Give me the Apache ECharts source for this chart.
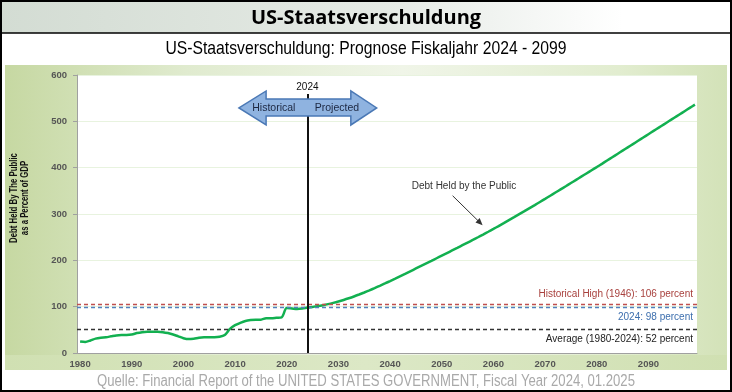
<!DOCTYPE html>
<html><head><meta charset="utf-8">
<script src="https://cdn.jsdelivr.net/npm/echarts@6/dist/echarts.min.js"></script>
<style>html,body{margin:0;padding:0;background:#fff;}#c{width:732px;height:392px;}</style>
</head><body><div id="c"></div>
<script>
// Historical (1980-2024) and projected (2024-2099) debt held by the public, % of GDP
const histYears = [];
for (let y = 1980; y <= 2024; y++) histYears.push(y);
const histValues = [25,24,27,31,33,34,36,38,39,39,40,43,45,46,46,46,45,43,40,36,32,30,31,33,34,34,34,35,39,52,60,65,69,71,72,72,75,75,76,77,97,96,95,96,98];
const projYears = [];
for (let y = 2025; y <= 2099; y++) projYears.push(y);
const projValues = [99.5,101.2,103.2,105.5,108.2,111.2,114.5,118.1,122,126.2,130.6,135.2,140,145,150.1,155.3,160.6,166,171.4,176.9,182.4,187.9,193.4,198.9,204.5,210.1,215.7,221.3,226.9,232.6,238.3,244,249.8,255.7,261.7,267.8,274,280.3,286.7,293.1,299.6,306.1,312.7,319.3,326,332.7,339.5,346.3,353.1,359.9,366.8,373.7,380.6,387.5,394.4,401.3,408.3,415.4,422.5,429.6,436.7,443.8,450.9,458,465.1,472.2,479.3,486.4,493.5,500.6,507.7,514.8,521.9,529,536.1];
const refLines = [
  {name:'Historical High (1946): 106 percent', value:106, color:'#c0504d', text:'#a8403d', pos:'insideEndTop'},
  {name:'2024: 98 percent', value:98, color:'#4f81bd', text:'#3d6fae', pos:'insideEndBottom'},
  {name:'Average (1980-2024): 52 percent', value:52, color:'#333333', text:'#222222', pos:'insideEndBottom'}
];
const yTicks = [0,100,200,300,400,500,600];
const xTickLabels = [1980,1990,2000,2010,2020,2030,2040,2050,2060,2070,2080,2090];
const xMin = 1979.4, xMax = 2099.4;

const seriesData = histYears.map((y,i)=>[y,histValues[i]]).concat(projYears.map((y,i)=>[y,projValues[i]]));

const chart = echarts.init(document.getElementById('c'), null, {renderer:'canvas'});
const arial = '"Liberation Sans",Arial,sans-serif';

const option = {
  animation:false,
  backgroundColor:'#ffffff',
  grid:{left:77,right:35,top:75,bottom:39,show:true,backgroundColor:'#ffffff',borderWidth:0},
  xAxis:{type:'value',min:xMin,max:xMax,
    axisLine:{lineStyle:{color:'#a0a0a0',width:1}},
    axisTick:{show:false},
    splitLine:{show:false},
    axisLabel:{customValues:xTickLabels,margin:6,color:'#555',fontWeight:'bold',fontSize:9.5,fontFamily:arial,
      formatter:v=>String(Math.round(v))}},
  yAxis:{type:'value',min:yTicks[0],max:yTicks[yTicks.length-1],interval:100,
    axisLine:{show:true,lineStyle:{color:'#a0a0a0',width:1}},
    axisTick:{show:true,length:4,lineStyle:{color:'#a0a0a0'}},
    splitLine:{show:true,lineStyle:{color:'#e8f3df',width:1}},
    axisLabel:{margin:10,color:'#555',fontWeight:'bold',fontSize:9.5,fontFamily:arial}},
  series:[{
    type:'line',data:seriesData,showSymbol:false,smooth:0.3,
    lineStyle:{color:'#12b050',width:2.5},
    z:3,
    markLine:{symbol:'none',silent:true,animation:false,
      data:refLines.map(r=>({yAxis:r.value,lineStyle:{color:r.color,type:[4,3],width:1.3},
        label:{show:true,position:r.pos,formatter:r.name,color:r.text,fontSize:10,fontFamily:arial,distance:[4,5]}}))
        .concat([[{coord:[2024,0],lineStyle:{color:'#111',type:'solid',width:2},label:{show:false}},{coord:[2024,559]}]])
    }
  }]
};
chart.setOption(option);

function px(x,y){return chart.convertToPixel({gridIndex:0},[x,y]);}
// block arrow around 2024 (data-space anchors)
const aL = px(2010.75,528.8), aHL = px(2016.0,565.5), aShT = px(2016.0,548.2), aShB = px(2016.0,511.5), aHB=px(2016.0,492.1);
const aR = px(2037.4,528.8), aHR = px(2032.4,565.5), aShTR = px(2032.4,548.2), aShBR = px(2032.4,511.5), aHBR=px(2032.4,492.1);
const arrowPts = [aL, aHL, aShT, aShTR, aHR, aR, aHBR, aShBR, aShB, aHB];
const yearLbl = px(2024,574);
const histLbl = px(2017.5,528.8), projLbl = px(2029.7,528.8);
const annTxt = px(2054.3,360.5), annA = px(2052.1,339.4), annB = px(2057.9,275.9);
const dx = annB[0]-annA[0], dy = annB[1]-annA[1], L = Math.hypot(dx,dy), ux=dx/L, uy=dy/L;
const hl=7, hw=3;
const head=[[annB[0],annB[1]],[annB[0]-ux*hl-uy*hw, annB[1]-uy*hl+ux*hw],[annB[0]-ux*hl+uy*hw, annB[1]-uy*hl-ux*hw]];

chart.setOption({graphic:[
  {type:'rect',z:-10,silent:true,shape:{x:5,y:65,width:722,height:305},
    style:{fill:new echarts.graphic.LinearGradient(0,0,1,0,[
      {offset:0,color:'#c6d8a2'},{offset:0.25,color:'#e0ebcf'},{offset:0.55,color:'#f0f5e8'},{offset:0.85,color:'#e2edd0'},{offset:1,color:'#d3e2b8'}])}},
  {type:'rect',z:-9,silent:true,shape:{x:5,y:355,width:722,height:15},
    style:{fill:new echarts.graphic.LinearGradient(0,0,1,0,[{offset:0,color:'#d0e0b2'},{offset:0.5,color:'#dce8c6'},{offset:1,color:'#d0e0b2'}])}},
  {type:'rect',z:-8,silent:true,shape:{x:0,y:0,width:732,height:33},
    style:{fill:new echarts.graphic.LinearGradient(0,0,1,0,[{offset:0,color:'#d3dcd3'},{offset:0.55,color:'#e6ebe6'},{offset:0.85,color:'#ffffff'},{offset:1,color:'#ffffff'}])}},
  {type:'line',z:50,silent:true,shape:{x1:0,y1:33,x2:732,y2:33},style:{stroke:'#000',lineWidth:1.5}},
  {type:'rect',z:50,silent:true,shape:{x:1,y:1,width:730,height:390},style:{fill:null,stroke:'#000',lineWidth:2}},
  {type:'text',z:50,silent:true,x:366,y:18,style:{text:'US-Staatsverschuldung',font:'bold 20px "Open Sans", "Noto Sans", sans-serif',fill:'#000',align:'center',verticalAlign:'middle'}},
  {type:'text',z:50,silent:true,x:366,y:49,scaleX:0.85,style:{text:'US-Staatsverschuldung: Prognose Fiskaljahr 2024 - 2099',font:'18.5px '+arial,fill:'#000',align:'center',verticalAlign:'middle'}},
  {type:'text',z:50,silent:true,x:366,y:382,scaleX:0.82,style:{text:'Quelle: Financial Report of the UNITED STATES GOVERNMENT, Fiscal Year 2024, 01.2025',font:'16px '+arial,fill:'#a9a9a9',align:'center',verticalAlign:'middle'}},
  {type:'text',z:50,silent:true,x:20,y:198,rotation:Math.PI/2,scaleX:0.74,style:{text:'Debt Held By The Public\nas a Percent of GDP',font:'bold 10.5px '+arial,lineHeight:11,fill:'#111',align:'center',verticalAlign:'middle'}},
  {type:'polygon',z:20,silent:true,shape:{points:arrowPts},style:{fill:'#8fb3e0',stroke:'#4a78b5',lineWidth:1.5}},
  {type:'text',z:21,silent:true,x:histLbl[0],y:histLbl[1],style:{text:'Historical',font:'10.5px '+arial,fill:'#1c2740',align:'center',verticalAlign:'middle'}},
  {type:'text',z:21,silent:true,x:projLbl[0],y:projLbl[1],style:{text:'Projected',font:'10.5px '+arial,fill:'#1c2740',align:'center',verticalAlign:'middle'}},
  {type:'text',z:21,silent:true,x:yearLbl[0],y:yearLbl[1],style:{text:'2024',font:'10px '+arial,fill:'#111',align:'center',verticalAlign:'middle'}},
  {type:'text',z:21,silent:true,x:annTxt[0],y:annTxt[1],style:{text:'Debt Held by the Public',font:'10px '+arial,fill:'#333',align:'center',verticalAlign:'middle'}},
  {type:'line',z:21,silent:true,shape:{x1:annA[0],y1:annA[1],x2:annB[0]-ux*4,y2:annB[1]-uy*4},style:{stroke:'#333',lineWidth:1}},
  {type:'polygon',z:21,silent:true,shape:{points:head},style:{fill:'#333'}}
]});
</script></body></html>
